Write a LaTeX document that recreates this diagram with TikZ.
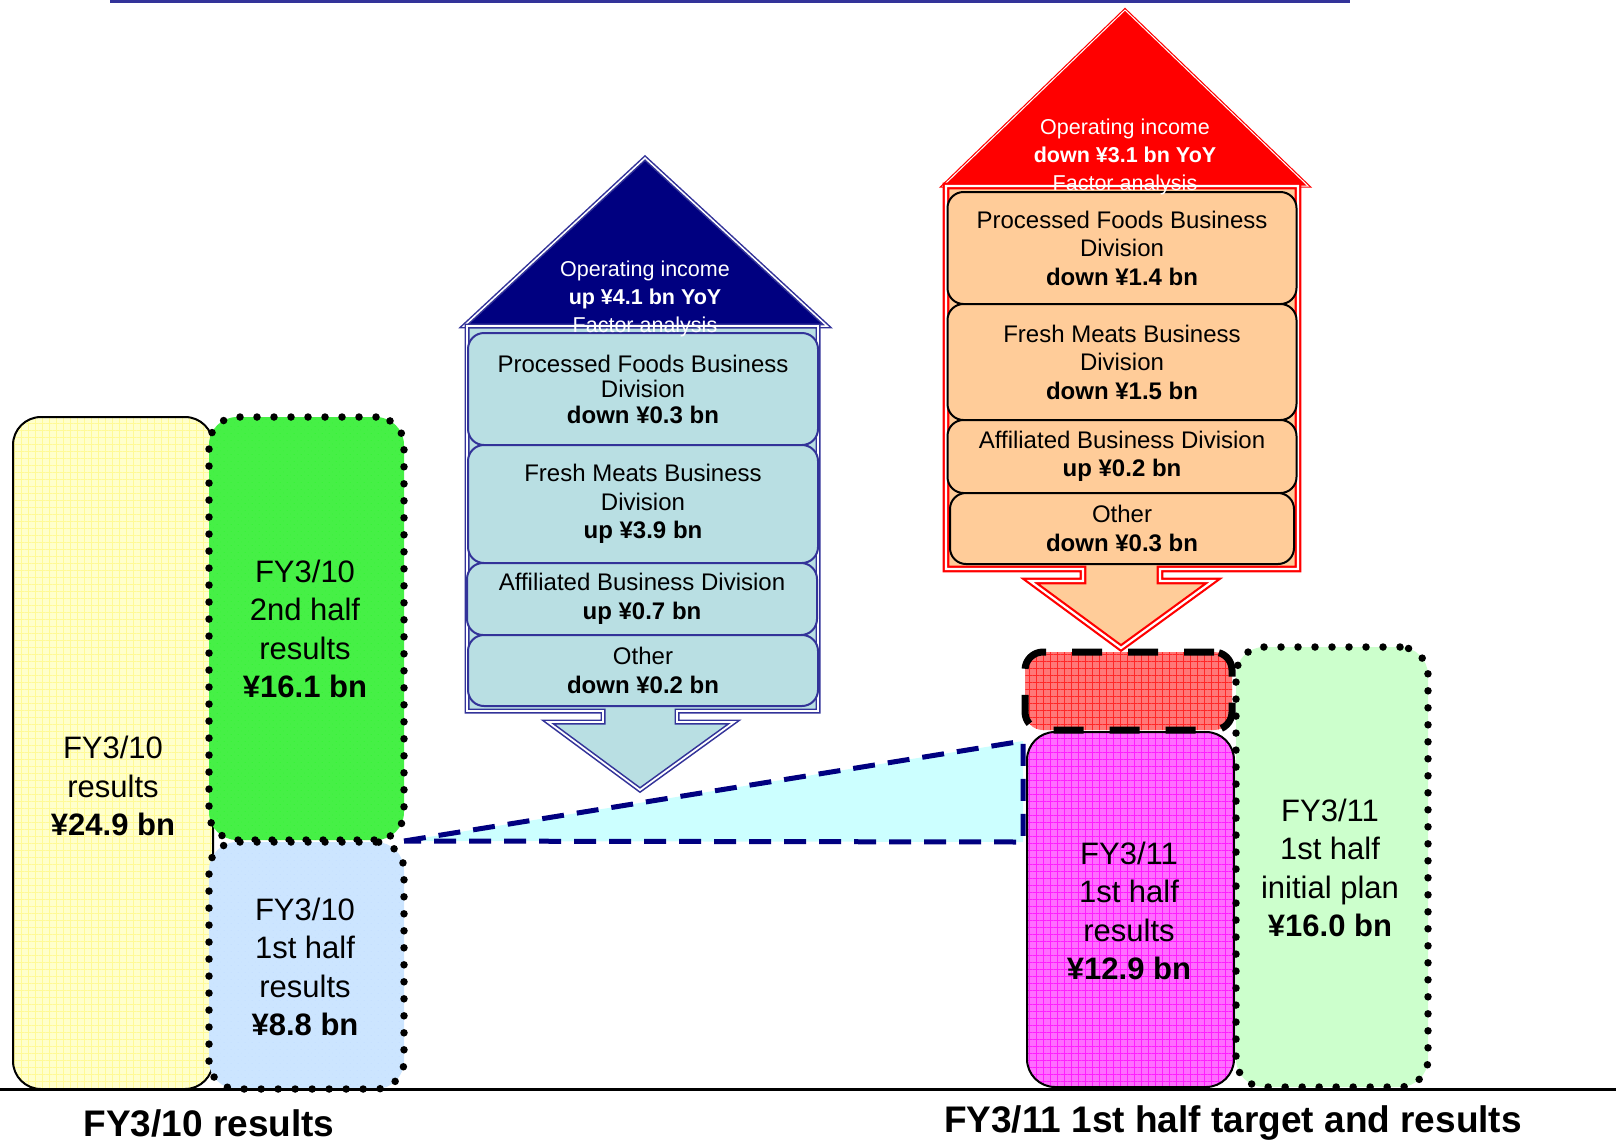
\documentclass[tikz,border=0pt]{standalone}
\usepackage{fontspec}
\setmainfont{Liberation Sans}
\usetikzlibrary{patterns.meta}
\definecolor{navyfill}{RGB}{0, 0, 128}
\definecolor{navyline}{RGB}{51, 51, 153}
\definecolor{paleteal}{RGB}{185, 223, 227}
\definecolor{peach}{RGB}{255, 204, 153}
\definecolor{paleyellow}{RGB}{255, 255, 204}
\definecolor{gridyellow}{RGB}{255, 250, 150}
\definecolor{brightgreen}{RGB}{70, 240, 70}
\definecolor{gridgreen}{RGB}{0, 255, 0}
\definecolor{paleblue}{RGB}{204, 229, 255}
\definecolor{gridblue}{RGB}{170, 205, 255}
\definecolor{pinkfill}{RGB}{255, 110, 255}
\definecolor{gridpink}{RGB}{255, 30, 255}
\definecolor{salmon}{RGB}{255, 120, 120}
\definecolor{gridred}{RGB}{255, 40, 40}
\definecolor{mint}{RGB}{204, 255, 204}
\definecolor{icecyan}{RGB}{204, 255, 255}
\tikzset{
  divbox/.style={rounded corners=16pt, line width=2pt, minimum width=350pt, inner sep=0pt, align=center, font=\fontsize{24}{28.5}\selectfont},
  bluediv/.style={divbox, draw=navyline, fill=paleteal},
  reddiv/.style={divbox, draw=black, fill=peach, minimum width=349pt},
  barbox/.style={rounded corners=28pt, inner sep=0pt, outer sep=0pt},
  dotline/.style={draw=black, line width=7.5pt, dash pattern=on 0pt off 17pt, line cap=round},
  meshfill/.style 2 args={preaction={fill=#1}, pattern={Hatch[angle=0, distance=7pt, line width=0.5pt]}, pattern color=#2},
  bigtext/.style={align=center, font=\fontsize{31}{38.3}\selectfont},
  rooftext/.style={align=center, text=white, font=\fontsize{21.5}{28}\selectfont},
  footlabel/.style={font=\bfseries\fontsize{37}{40}\selectfont}
}
\begin{document}
\begin{tikzpicture}[x=1pt, y=-1pt, line join=round]
  \useasboundingbox (0,0) rectangle (1616,1144);

  % -- top rule --
  \draw[navyline, line width=3pt] (110,1.5) -- (1350,1.5);

  % -- wedge between the two years --
  \coordinate (wedgetip) at (404,841);
  \coordinate (wedgetop) at (1023,741);
  \coordinate (wedgebot) at (1023,842);
  \draw[navyfill, fill=icecyan, line width=5pt, dash pattern=on 22pt off 13pt, line join=miter]
    (wedgetip) -- (wedgetop) -- (wedgebot) -- cycle;

  % -- FY3/10 bars --
  \node[barbox, draw=black, line width=2pt, meshfill={paleyellow}{gridyellow}, minimum width=200pt, minimum height=672pt] (fyfull) at (113,753) {};
  \node[barbox, dotline, meshfill={brightgreen}{gridgreen}, minimum width=195pt, minimum height=423pt] (fysecond) at (306.5,628.5) {};
  \node[barbox, dotline, meshfill={paleblue}{gridblue}, minimum width=195pt, minimum height=247pt] (fyfirst) at (306.5,965.5) {};

  \node[bigtext] (fyfulltxt) at (113,786) {FY3/10\\results\\\textbf{¥24.9 bn}};
  \node[bigtext] (fysecondtxt) at (305,629) {FY3/10\\2nd half\\results\\\textbf{¥16.1 bn}};
  \node[bigtext] (fyfirsttxt) at (305,967) {FY3/10\\1st half\\results\\\textbf{¥8.8 bn}};

  % -- FY3/11 bars --
  \node[barbox, draw=black, line width=2pt, meshfill={pinkfill}{gridpink}, minimum width=207pt, minimum height=355pt] (fyresult) at (1130.5,909.5) {};
  \node[barbox, rounded corners=18pt, draw=black, line width=7pt, dash pattern=on 30pt off 26pt, meshfill={salmon}{gridred}, minimum width=207pt, minimum height=78pt] (fygap) at (1128.5,691) {};
  \node[barbox, dotline, fill=mint, minimum width=192pt, minimum height=440pt] (fyplan) at (1332,867) {};

  \node[bigtext] (fyresulttxt) at (1129,911) {FY3/11\\1st half\\results\\\textbf{¥12.9 bn}};
  \node[bigtext] (fyplantxt) at (1330,868) {FY3/11\\1st half\\initial plan\\\textbf{¥16.0 bn}};

  % -- blue house (up) --
  \draw[navyline, line width=1.5pt, double=white, double distance=1.5pt, fill=navyfill, line join=miter]
    (464,326) -- (645,158) -- (827,326) -- cycle;
  \draw[navyline, line width=1.6pt, double=white, double distance=1.8pt, fill=paleteal, line join=miter]
    (467,326) -- (818,326) -- (818,711) -- (677,711) -- (677,722) -- (734,722) -- (640,790)
    -- (548,722) -- (603,722) -- (603,711) -- (467,711) -- cycle;

  \node[bluediv, minimum height=112pt, font=\fontsize{24}{25.5}\selectfont] (bluefoods) at (643,389) {Processed Foods Business\\Division\\\textbf{down ¥0.3 bn}};
  \node[bluediv, minimum height=118pt] (bluemeats) at (643,504) {Fresh Meats Business\\Division\\\textbf{up ¥3.9 bn}};
  \node[bluediv, minimum height=72pt] (blueaffil) at (642,599) {Affiliated Business Division\\\textbf{up ¥0.7 bn}};
  \node[bluediv, minimum height=71pt] (blueother) at (643,670.5) {Other\\\textbf{down ¥0.2 bn}};

  \node[rooftext] (blueroof) at (645,299) {Operating income\\\textbf{up ¥4.1 bn YoY}\\Factor analysis};

  % -- red house (down) --
  \draw[red, line width=1.2pt, double=white, double distance=1pt, fill=red, line join=miter]
    (943,186) -- (1125,10) -- (1308,186) -- cycle;
  \draw[red, line width=2.2pt, double=white, double distance=2.2pt, fill=peach, line join=miter]
    (946,186) -- (1298,186) -- (1298,569) -- (1160,569) -- (1160,581) -- (1213,581) -- (1121,648)
    -- (1030,581) -- (1083,581) -- (1083,569) -- (946,569) -- cycle;

  \node[reddiv, minimum height=112pt] (redfoods) at (1122,248) {Processed Foods Business\\Division\\\textbf{down ¥1.4 bn}};
  \node[reddiv, minimum height=116pt] (redmeats) at (1122,362) {Fresh Meats Business\\Division\\\textbf{down ¥1.5 bn}};
  \node[reddiv, minimum height=73pt] (redaffil) at (1122,456.5) {Affiliated Business Division\\\textbf{up ¥0.2 bn}};
  \node[reddiv, minimum height=71pt, minimum width=344pt] (redother) at (1122,528.5) {Other\\\textbf{down ¥0.3 bn}};

  \node[rooftext] (redroof) at (1125,157) {Operating income\\\textbf{down ¥3.1 bn YoY}\\Factor analysis};

  % -- baseline and captions --
  \draw[line width=3pt] (0,1089) -- (1616,1089);
  \node[footlabel] (leftcap) at (209,1123) {FY3/10 results};
  \node[footlabel] (rightcap) at (1233,1123) {FY3/11 1st half target and results};
\end{tikzpicture}
\end{document}
